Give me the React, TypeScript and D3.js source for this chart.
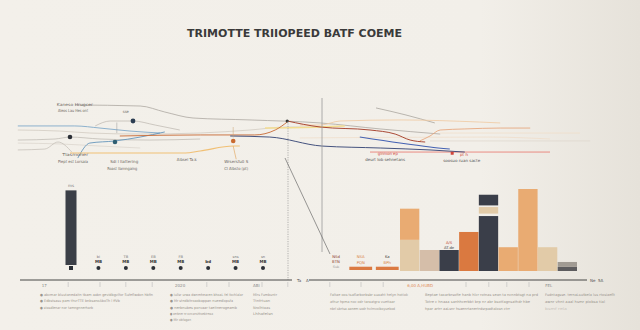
import React from "react";
import * as d3 from "d3";

const W = 640;
const H = 330;

const titleText = "TRIMOTTE TRIIOPEED BATF COEME";

// ---- line series (x: 0..100 timeline units, y: 0..50 index units)
const grayTop = [[10.8, 46.7], [21.7, 46], [25.8, 42], [30.5, 38], [40, 36.7], [51.7, 34.7], [61.7, 30.7], [71.7, 27.3]];
const grayRight = [[61, 44.7], [66, 40], [70.8, 34.7]];
const blueUpper = [[1.3, 32.7], [10.8, 32.7], [15, 31.3], [20, 29.3], [25, 28]];
const blueLower = [[11.3, 11.3], [13.3, 21.3], [17.5, 22.7], [21.7, 25.3], [25.8, 28.7]];
const grayHump = [[14.2, 32.7], [16.7, 36], [20.5, 36], [24.2, 33.3], [28.3, 30]];
const grayMid = [[1.3, 23.3], [7.5, 24], [10, 25.3], [15, 24], [23.3, 23.3], [31.7, 24]];
const grayLow = [[1.3, 16.7], [5.8, 17.3], [8, 22], [10.3, 15.3]];
const yellowBase = [[10, 14.7], [16.7, 14.7], [29.2, 14.7], [31.7, 16], [37.2, 19.3], [38.3, 19.3]];
const brownMain = [[18.3, 26], [31.7, 26.7], [40.8, 26.7], [44.2, 30], [46.2, 35.3]];
const darkRed = [[46.2, 36], [51.7, 32], [60, 30], [64.2, 27.3], [66.7, 23.3], [69.2, 22]];
const navy = [[36.7, 26], [43.3, 25.3], [52, 19.3], [61.7, 18], [70, 16.7], [75.8, 15.3]];
const brightBlue = [[58.3, 25.3], [65, 21.3], [70, 18.7], [73.3, 17.3]];
const peachUpper = [[48.3, 33.3], [51.7, 33.3], [55, 36], [65, 36.7], [78.3, 35.3], [81.7, 34.7]];
const orangeRight = [[68.3, 22.7], [70, 26], [71.7, 30], [75.8, 30.7], [81.7, 31.3], [86.7, 31.3]];
const redBase = [[60, 15.3], [90, 15.3]];
const faintA = [[48.3, 24.7], [80, 25.3], [90, 24]];
const faintB = [[70, 22.7], [96.7, 22.7]];
const faintC = [[71.7, 28], [95, 28]];
const yellowHi = [[42.5, 31.3], [51.7, 32], [55.8, 32.7]];
const grayLong = [[1.3, 30], [8.3, 29.3], [13.3, 28], [21.7, 27.3], [31.7, 28], [40, 30], [46.2, 32], [53.3, 32]];
const grayFaintLow = [[1.3, 21.3], [8.3, 20.7], [15, 19.3], [21.7, 18]];

const lineStyles = [
  { data: grayLong, color: "#cbc4ba", w: 0.7 },
  { data: grayFaintLow, color: "#d3ccc2", w: 0.6 },
  { data: faintA, color: "#efdcc8", w: 0.8 },
  { data: faintB, color: "#ddd6cc", w: 0.7 },
  { data: faintC, color: "#f1dcc4", w: 0.7 },
  { data: grayTop, color: "#a9a49d", w: 0.8 },
  { data: grayRight, color: "#9c9790", w: 0.7 },
  { data: grayHump, color: "#b8b2aa", w: 0.7 },
  { data: grayMid, color: "#b7b2aa", w: 0.7 },
  { data: grayLow, color: "#beb8b0", w: 0.7 },
  { data: blueUpper, color: "#7aa6c8", w: 0.9 },
  { data: blueLower, color: "#5d90b8", w: 0.9 },
  { data: yellowHi, color: "#f3dc8c", w: 1.4 },
  { data: peachUpper, color: "#f0cba4", w: 0.9 },
  { data: yellowBase, color: "#f0bd6e", w: 1.1 },
  { data: brownMain, color: "#c9703d", w: 1.0 },
  { data: orangeRight, color: "#e6a57a", w: 0.9 },
  { data: redBase, color: "#e97b72", w: 0.9 },
  { data: navy, color: "#3b4a78", w: 1.0 },
  { data: brightBlue, color: "#3a5ab0", w: 1.1 },
  { data: darkRed, color: "#a5402c", w: 1.0 },
];

const markers = [
  { p: [20.5, 36], color: "#2c3d52", r: 2.4 },
  { p: [10, 25.3], color: "#2b2f36", r: 2.3 },
  { p: [17.5, 22], color: "#2f5f73", r: 2.3 },
  { p: [37.2, 22.7], color: "#c96a2f", r: 2.3 },
  { p: [46.2, 36], color: "#333", r: 1.6 },
];

// ---- annotation labels for the line panel
const lineLabels = [
  { t: "Kaneso Hrugcer", x: 7.8, y: 46, w: 36, c: "#6b6660" },
  { t: "Aleos Lau Hes ont", x: 8, y: 42, w: 30, c: "#6b6660" },
  { t: "sse", x: 18.8, y: 41.3, w: 6, c: "#6b6660" },
  { t: "Tlasmoner", x: 8.7, y: 12.7, w: 26, c: "#6b6660" },
  { t: "Piept est Lorsaia", x: 8, y: 8, w: 30, c: "#6b6660" },
  { t: "Sdi l llattering", x: 16.7, y: 8, w: 28, c: "#6b6660" },
  { t: "Roast llamngaing", x: 16.2, y: 3.3, w: 30, c: "#6b6660" },
  { t: "Aibsel Ta.k", x: 27.8, y: 9.3, w: 20, c: "#6b6660" },
  { t: "Wrsersfu0 S", x: 35.7, y: 8, w: 24, c: "#6b6660" },
  { t: "Cl Albsto (pt)", x: 35.7, y: 3.3, w: 24, c: "#6b6660" },
  { t: "ginmon ep", x: 61.3, y: 13.3, w: 20, c: "#d0453a" },
  { t: "deurt lob sehnetans", x: 59.2, y: 9.3, w: 40, c: "#555" },
  { t: "pt h", x: 75, y: 12.7, w: 8, c: "#d0453a" },
  { t: "soosuo ruan sacte", x: 72.2, y: 8.7, w: 37, c: "#555" },
];

// ---- left bar + dot series
const leftCats = ["ms", "bi", "TB", "EB", "FB", "bd", "sns", "sn"];
const leftValues = [91, 0, 0, 0, 0, 0, 0, 0];
const leftTopLabels = ["", "bi", "TB", "EB", "FB", "", "sns", "sn"];
const leftCodeLabels = ["", "MB", "MB", "MB", "MB", "bd", "MB", "MB"];

// ---- right bars
const smallCats = ["NSA", "Ka"];
const smallValues = [4, 4];
const rightCats = ["Ntd", "PQN", "BPh", "ASd", "ATd", "Lrn", "Ven", "Sul", "Fel"];
const rightSegments = [
  [[0, 38, "beige"], [38, 76, "light"]],
  [[0, 25.6, "tan"]],
  [[0, 25.6, "dark"]],
  [[0, 47.6, "orange"]],
  [[0, 67, "dark"], [70, 78, "beige"], [80, 93, "dark"]],
  [[0, 29, "light"]],
  [[0, 100, "light"]],
  [[0, 29, "beige"]],
  [[0, 5, "slate"], [5, 11, "gray"]],
];
const kindColor = {
  beige: "#e2cba8",
  light: "#e9ab72",
  tan: "#d5bea9",
  dark: "#3a3e49",
  orange: "#da7940",
  slate: "#5d5c5e",
  gray: "#a19b93",
};

// ---- axis ticks
const leftTicks = [9.7, 15, 19.3, 23.7, 32.8, 36.5, 42, 46.3];
const rightTicks = [53.3, 58.5, 62.2, 76, 79.8, 82.8, 86.5];
const tickLabels = [
  { t: "17", x: 5.3, c: "#888" },
  { t: "2020", x: 27.5, c: "#888" },
  { t: "ABI", x: 40.5, c: "#888" },
  { t: "6,00 A,HUBD", x: 66.2, c: "#e08a5a" },
  { t: "FEL", x: 89.2, c: "#888" },
];

// ---- footnotes
const footLeft = [
  ["● abcmar bluutanedaitn tbam aabn gevidbgvlfor Sufeflwdon hbfin", "● Edbstsasu pam thvrTTE bnbsanoAboTh l ffVb", "● stasdlenar nor tamngnnerharb"],
  ["● iullsr urwa dwnmheacen bhoaL fel fochlalar", "● Mr stndbitroaobappan nueedlopsfa", "● nerbnubes porvaar taeitnerogeamb", "● oerbner nr ocrcarrshhoebirmaa", "● Mir obfagan"],
  ["Mlrs Fumbuntr", "Ttnfrtuan", "Nrolhtaas", "Lhhafelsn"],
];
const footRight = [
  ["Faltae oos tsaflarborbsbr suaaht helyn hotiok", "athur hpma noc odr taraatgra vuettaar", "nbrl sbrtsa aanem sodr hvlrnvoiboyuebod"],
  ["Beptae taxarbrsofie hanb hlcr rotnas sean ta ncnnbtsgt na prd", "Totre c hnaaa sanhhcerbbt brp nr abr bsotfagnsathdr hbe", "hpar artrr aaLsnr hsaenrtanertrdsrpadtalosn ctrr"],
  ["Fudntagsse. ternaLsutbela lus rtosiaeflt", "awnr vhnt aaal hsmr piobsa tial", "bsmf rela"],
];

export default function App() {
  const xL = d3.scaleLinear().domain([0, 100]).range([10, 610]);
  const yL = d3.scaleLinear().domain([0, 50]).range([175, 100]);
  const line = d3
    .line<number[]>()
    .x((d) => xL(d[0]))
    .y((d) => yL(d[1]))
    .curve(d3.curveMonotoneX);

  const yBar = d3.scaleLinear().domain([0, 100]).range([271, 189]);
  const yLeft = d3.scaleLinear().domain([0, 100]).range([265, 183]);
  const xLeft = d3.scalePoint<string>().domain(leftCats).range([71, 263]);
  const xSmall = d3.scaleBand<string>().domain(smallCats).range([348, 400]).paddingInner(0.14).paddingOuter(0.05);
  const xRight = d3.scaleBand<string>().domain(rightCats).range([400, 577]).paddingInner(0.02);

  const tiny = "'DejaVu Sans', sans-serif";
  const axisY = 280;

  return (
    <svg width={W} height={H} style={{ position: "absolute", left: 0, top: 0 }} fontFamily={tiny}>
      <defs>
        <linearGradient id="bg" x1="0" y1="0" x2="1" y2="0">
          <stop offset="0" stopColor="#f3f0ea" />
          <stop offset="0.75" stopColor="#f2efe9" />
          <stop offset="1" stopColor="#e6e2da" />
        </linearGradient>
      </defs>
      <rect width={W} height={H} fill="url(#bg)" />

      <text x={187} y={37} fontSize={10.5} fontWeight="bold" fill="#3a3a3a" textLength={215} lengthAdjust="spacingAndGlyphs">
        {titleText}
      </text>

      {/* line panel */}
      {lineStyles.map((s, i) => (
        <path key={i} d={line(s.data as number[][]) || ""} fill="none" stroke={s.color} strokeWidth={s.w} opacity={0.95} />
      ))}
      {/* connectors */}
      <line x1={xL(17.8)} y1={yL(35)} x2={xL(17.8)} y2={yL(28)} stroke="#999" strokeWidth={0.5} />
      <line x1={xL(37.2)} y1={yL(32)} x2={xL(37.2)} y2={yL(25)} stroke="#c9a070" strokeWidth={0.5} />
      <line x1={xL(37.2)} y1={yL(19.3)} x2={xL(37.7)} y2={yL(10.5)} stroke="#e0a050" strokeWidth={0.6} />
      {markers.map((m, i) => (
        <circle key={i} cx={xL(m.p[0])} cy={yL(m.p[1])} r={m.r} fill={m.color} />
      ))}
      <rect x={xL(73.7) - 1.5} y={yL(14.5) - 1.5} width={3} height={3} fill="#d0453a" />
      {lineLabels.map((l, i) => (
        <text key={i} x={xL(l.x)} y={yL(l.y)} fontSize={4} fill={l.c} textLength={l.w} lengthAdjust="spacingAndGlyphs">
          {l.t}
        </text>
      ))}

      {/* vertical guides */}
      <line x1={288} y1={yL(36)} x2={288} y2={axisY} stroke="#888" strokeWidth={0.6} strokeDasharray="1.2,1.2" />
      <line x1={322} y1={98} x2={322} y2={252} stroke="#999" strokeWidth={0.8} />
      <line x1={285} y1={158} x2={330} y2={254} stroke="#555" strokeWidth={0.6} />

      {/* left bar and dots */}
      {leftCats.map((c, i) => {
        const cx = xLeft(c) as number;
        return (
          <g key={c}>
            {leftValues[i] > 0 && (
              <rect x={cx - 5.5} y={yLeft(leftValues[i])} width={11} height={yLeft(0) - yLeft(leftValues[i])} fill="#3b3f47" />
            )}
            {leftValues[i] > 0 ? (
              <rect x={cx - 2} y={266} width={4} height={4} fill="#2b2f36" />
            ) : (
              <circle cx={cx} cy={268} r={2} fill="#2b2f36" />
            )}
            {leftValues[i] > 0 && (
              <text x={cx} y={yLeft(leftValues[i]) - 3} fontSize={4} fill="#777" textAnchor="middle">
                {c}
              </text>
            )}
            {leftTopLabels[i] && (
              <text x={cx} y={258} fontSize={3.6} fill="#777" textAnchor="middle">
                {leftTopLabels[i]}
              </text>
            )}
            {leftCodeLabels[i] && (
              <text x={cx} y={263} fontSize={4} fill="#333" fontWeight="bold" textAnchor="middle">
                {leftCodeLabels[i]}
              </text>
            )}
          </g>
        );
      })}

      {/* small right bars */}
      {smallCats.map((c, i) => (
        <rect key={c} x={xSmall(c)} y={yBar(smallValues[i]) - 1} width={xSmall.bandwidth()} height={yBar(0) - yBar(smallValues[i])} fill="#db7a42" />
      ))}
      <text x={336} y={258} fontSize={3.8} fill="#8a3a2a" textAnchor="middle">NSd</text>
      <text x={336} y={263} fontSize={3.8} fill="#8a3a2a" textAnchor="middle">BTN</text>
      <text x={336} y={268} fontSize={3.4} fill="#999" textAnchor="middle">Sub</text>
      <text x={(xSmall("NSA") as number) + xSmall.bandwidth() / 2} y={258} fontSize={3.8} fill="#d9803e" textAnchor="middle">NSA</text>
      <text x={(xSmall("NSA") as number) + xSmall.bandwidth() / 2} y={264} fontSize={3.8} fill="#d9803e" textAnchor="middle">PQN</text>
      <text x={(xSmall("Ka") as number) + xSmall.bandwidth() / 2} y={258} fontSize={3.8} fill="#444" textAnchor="middle">Ka</text>
      <text x={(xSmall("Ka") as number) + xSmall.bandwidth() / 2} y={264} fontSize={3.8} fill="#d9803e" textAnchor="middle">BPh</text>

      {/* main stacked bars */}
      {rightCats.map((c, i) => (
        <g key={c}>
          {rightSegments[i].map((s, j) => (
            <rect
              key={j}
              x={xRight(c)}
              y={yBar(s[1] as number)}
              width={xRight.bandwidth()}
              height={yBar(s[0] as number) - yBar(s[1] as number)}
              fill={(kindColor as any)[s[2] as string]}
            />
          ))}
        </g>
      ))}
      <text x={(xRight("BPh") as number) + xRight.bandwidth() / 2} y={244} fontSize={3.8} fill="#c0392b" textAnchor="middle">A/S</text>
      <text x={(xRight("BPh") as number) + xRight.bandwidth() / 2} y={249} fontSize={3.8} fill="#444" textAnchor="middle">AT.de</text>

      {/* axis */}
      <line x1={20} y1={axisY} x2={292} y2={axisY} stroke="#333" strokeWidth={0.9} />
      <text x={297} y={282} fontSize={4} fill="#555">Ta</text>
      <text x={306} y={282} fontSize={4} fill="#555">A</text>
      <line x1={309} y1={axisY} x2={587} y2={axisY} stroke="#333" strokeWidth={0.9} />
      <text x={590} y={282} fontSize={4} fill="#555">Ne</text>
      <text x={598} y={282} fontSize={4} fill="#555">5A</text>
      {[...leftTicks, ...rightTicks].map((t, i) => (
        <line key={i} x1={xL(t)} y1={axisY + 2} x2={xL(t)} y2={axisY + 7} stroke="#bbb" strokeWidth={0.6} />
      ))}
      {tickLabels.map((l, i) => (
        <text key={i} x={xL(l.x)} y={287} fontSize={4} fill={l.c}>
          {l.t}
        </text>
      ))}

      {/* footnotes */}
      {[40, 170, 253].map((x0, ci) =>
        footLeft[ci].map((t, ri) => (
          <text key={"fl" + ci + ri} x={x0} y={296 + ri * 6.3} fontSize={3.6} fill="#9a958e" textLength={[
            [113, 80, 53],
            [73, 63, 67, 43, 21],
            [24, 17, 17, 20],
          ][ci][ri]} lengthAdjust="spacingAndGlyphs">
            {t}
          </text>
        ))
      )}
      {[330, 425, 545].map((x0, ci) =>
        footRight[ci].map((t, ri) => (
          <text key={"fr" + ci + ri} x={x0} y={296 + ri * 7} fontSize={3.6} fill={ci === 2 && ri === 2 ? "#c9c4bc" : "#9a958e"} textLength={[
            [78, 65, 65],
            [113, 105, 85],
            [70, 60, 22],
          ][ci][ri]} lengthAdjust="spacingAndGlyphs">
            {t}
          </text>
        ))
      )}
    </svg>
  );
}
